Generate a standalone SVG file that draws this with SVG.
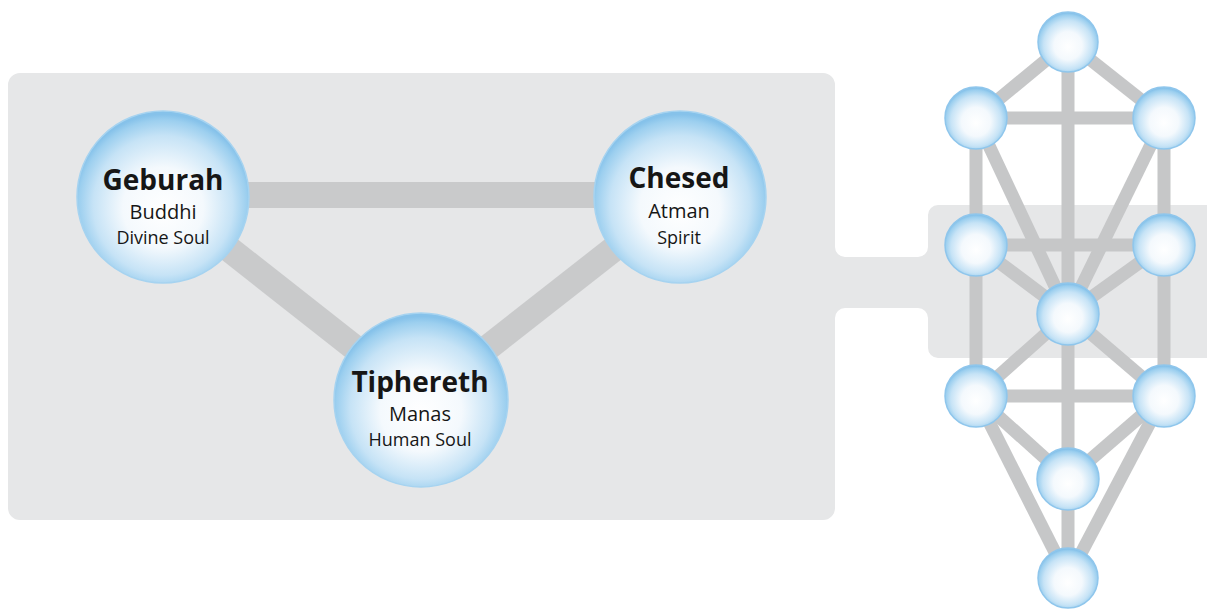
<svg xmlns="http://www.w3.org/2000/svg" width="1207" height="609" viewBox="0 0 1207 609">
<defs>
<radialGradient id="orb" cx="50%" cy="54%" r="52%" fx="50%" fy="58%">
<stop offset="0" stop-color="#ffffff"/>
<stop offset="0.45" stop-color="#f4f9fd"/>
<stop offset="0.78" stop-color="#c6e3f6"/>
<stop offset="0.94" stop-color="#9ccfef"/>
<stop offset="1" stop-color="#86c2ea"/>
</radialGradient>
<style>
.big{fill:url(#orb);stroke:#a6d3f0;stroke-width:1.5}
.small{fill:url(#orb);stroke:#8fc6ec;stroke-width:1.5}
.bar{stroke:#c9cacb;stroke-width:26;stroke-linecap:butt;fill:none}
.path{stroke:#c6c7c8;stroke-width:13;stroke-linecap:butt;fill:none}
text{font-family:"Open Sans","Noto Sans","Liberation Sans",sans-serif;fill:#161616;text-anchor:middle}
.t1{font-size:28px;font-weight:700}
.t2{font-size:20px}
.t3{font-size:18px}
</style>
</defs>
<rect width="1207" height="609" fill="#ffffff"/>
<g id="panel">
<path fill="#e6e7e8" d="M20,73 H823 A12,12 0 0 1 835,85 V247 A10,10 0 0 0 845,257 H918 A10,10 0 0 0 928,247 V215 A10,10 0 0 1 938,205 H1207 V358 H938 A10,10 0 0 1 928,348 V318 A10,10 0 0 0 918,308 H845 A10,10 0 0 0 835,318 V508 A12,12 0 0 1 823,520 H20 A12,12 0 0 1 8,508 V85 A12,12 0 0 1 20,73 Z"/>
</g>
<g id="connectors">
<line class="bar" x1="163" y1="195" x2="680" y2="195"/>
<line class="bar" x1="163" y1="197" x2="421" y2="400"/>
<line class="bar" x1="680" y1="197" x2="421" y2="400"/>
<g id="tree-paths">
<line class="path" x1="1068" y1="42" x2="976" y2="118"/>
<line class="path" x1="1068" y1="42" x2="1164" y2="118"/>
<line class="path" x1="1068" y1="42" x2="1068" y2="578"/>
<line class="path" x1="976" y1="118" x2="1164" y2="118"/>
<line class="path" x1="976" y1="118" x2="976" y2="396"/>
<line class="path" x1="1164" y1="118" x2="1164" y2="396"/>
<line class="path" x1="976" y1="118" x2="1068" y2="314"/>
<line class="path" x1="1164" y1="118" x2="1068" y2="314"/>
<line class="path" x1="976" y1="245" x2="1164" y2="245"/>
<line class="path" x1="976" y1="245" x2="1068" y2="314"/>
<line class="path" x1="1164" y1="245" x2="1068" y2="314"/>
<line class="path" x1="976" y1="396" x2="1068" y2="314"/>
<line class="path" x1="1164" y1="396" x2="1068" y2="314"/>
<line class="path" x1="976" y1="396" x2="1164" y2="396"/>
<line class="path" x1="976" y1="396" x2="1068" y2="479"/>
<line class="path" x1="1164" y1="396" x2="1068" y2="479"/>
<line class="path" x1="976" y1="396" x2="1068" y2="578"/>
<line class="path" x1="1164" y1="396" x2="1068" y2="578"/>
</g>
</g>
<g id="geburah">
<circle class="big" cx="163" cy="197" r="86"/>
<text class="t1" x="163" y="190">Geburah</text>
<text class="t2" x="163" y="219">Buddhi</text>
<text class="t3" x="163" y="244">Divine Soul</text>
</g>
<g id="chesed">
<circle class="big" cx="680" cy="197" r="86"/>
<text class="t1" x="679" y="188">Chesed</text>
<text class="t2" x="679" y="218">Atman</text>
<text class="t3" x="679" y="244">Spirit</text>
</g>
<g id="tiphereth">
<circle class="big" cx="421" cy="400" r="87"/>
<text class="t1" x="420" y="392">Tiphereth</text>
<text class="t2" x="420" y="421">Manas</text>
<text class="t3" x="420" y="446">Human Soul</text>
</g>
<g id="tree-nodes">
<circle id="kether" class="small" cx="1068" cy="42" r="30"/>
<circle id="binah" class="small" cx="976" cy="118" r="31"/>
<circle id="chokmah" class="small" cx="1164" cy="118" r="31"/>
<circle id="t-geburah" class="small" cx="976" cy="245" r="31"/>
<circle id="t-chesed" class="small" cx="1164" cy="245" r="31"/>
<circle id="t-tiphereth" class="small" cx="1068" cy="314" r="31"/>
<circle id="hod" class="small" cx="976" cy="396" r="31"/>
<circle id="netzach" class="small" cx="1164" cy="396" r="31"/>
<circle id="yesod" class="small" cx="1068" cy="479" r="31"/>
<circle id="malkuth" class="small" cx="1068" cy="578" r="30"/>
</g>
</svg>
